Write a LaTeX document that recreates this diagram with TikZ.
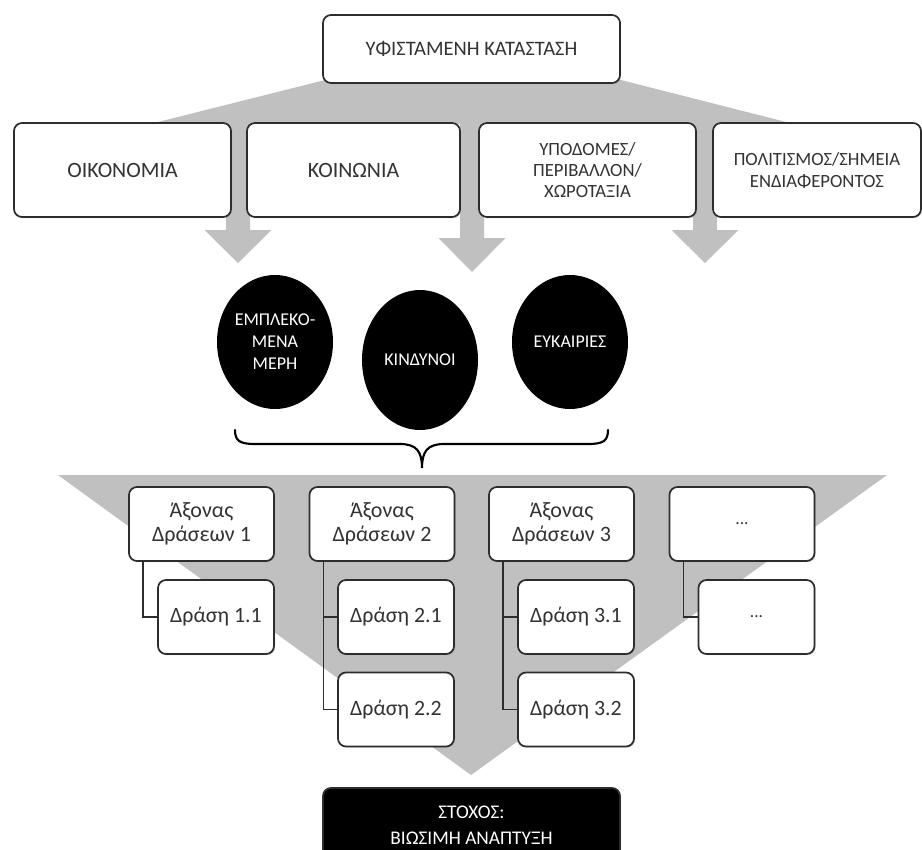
\documentclass[tikz,border=0pt]{standalone}
\usepackage{fontspec}
\setmainfont{Carlito}
\usetikzlibrary{shapes.geometric,shadows}
\definecolor{flowgray}{RGB}{192,192,192}
\definecolor{boxline}{RGB}{45,45,45}

\begin{document}
\begin{tikzpicture}[x=0.75pt,y=-0.75pt,
    box/.style={draw=boxline, line width=1.3pt, rounded corners=6pt, fill=white,
        align=center, inner sep=0pt, text=black!80,
        drop shadow={shadow xshift=0.9pt, shadow yshift=-0.9pt, opacity=0.3}},
    blob/.style={ellipse, fill=black, text=white, align=center, inner sep=0pt,
        minimum width=87pt, font=\fontsize{13.5}{16.5}\selectfont},
    tree/.style={draw=boxline, line width=1.1pt}]
    \useasboundingbox (0,0) rectangle (922,850);

    % Gray flow from the current state
    \fill[flowgray] (325,80) -- (621,80) -- (794,124) -- (150,124) -- cycle;
    \foreach \ax/\top/\tip in {238/230/263, 472/238/272, 705/230/263}
        \fill[flowgray] (\ax-12,120) -- (\ax+12,120) -- (\ax+12,\top) -- (\ax+33.5,\top)
            -- (\ax,\tip) -- (\ax-33.5,\top) -- (\ax-12,\top) -- cycle;

    % Gray funnel towards the goal
    \fill[flowgray] (58,475) -- (887,475) -- (471,775) -- cycle;

    % Current state and its fields
    \node[box, minimum width=222.75pt, minimum height=51pt,
        font=\fontsize{15.4}{18}\selectfont] (state) at (471.5,49) {ΥΦΙΣΤΑΜΕΝΗ ΚΑΤΑΣΤΑΣΗ};
    \node[box, minimum width=162.75pt, minimum height=70.5pt,
        font=\fontsize{16.4}{19}\selectfont] (economy) at (122.5,170) {ΟΙΚΟΝΟΜΙΑ};
    \node[box, minimum width=159.75pt, minimum height=70.5pt,
        font=\fontsize{16.4}{19}\selectfont] (society) at (353.5,170) {ΚΟΙΝΩΝΙΑ};
    \node[box, minimum width=162.75pt, minimum height=70.5pt,
        font=\fontsize{14}{16}\selectfont] (infra) at (587.5,170) {ΥΠΟΔΟΜΕΣ/\\ΠΕΡΙΒΑΛΛΟΝ/\\ΧΩΡΟΤΑΞΙΑ};
    \node[box, minimum width=156pt, minimum height=70.5pt,
        font=\fontsize{14}{16.5}\selectfont] (culture) at (817,170) {ΠΟΛΙΤΙΣΜΟΣ/ΣΗΜΕΙΑ\\ΕΝΔΙΑΦΕΡΟΝΤΟΣ};

    % Analysis
    \node[blob, minimum height=100.5pt] (parties) at (275,342) {ΕΜΠΛΕΚΟ-\\ΜΕΝΑ\\ΜΕΡΗ};
    \node[blob, minimum height=105pt] (risks) at (420,360) {ΚΙΝΔΥΝΟΙ};
    \node[blob, minimum height=100.5pt] (chances) at (570,342) {ΕΥΚΑΙΡΙΕΣ};

    % Brace
    \draw[line width=1.6pt, line cap=round] (235,430) .. controls (235,441) and (240,444) .. (255,444)
        -- (400,444) .. controls (417,444) and (422,452) .. (422,468)
        .. controls (422,452) and (427,444) .. (444,444) -- (588,444)
        .. controls (603,444) and (608,441) .. (608,430);

    % Axes of action
    \node[box, minimum width=108.75pt, minimum height=55.5pt,
        font=\fontsize{16.5}{18}\selectfont] (axis1) at (201.5,524) {Άξονας\\Δράσεων 1};
    \node[box, minimum width=108.75pt, minimum height=55.5pt,
        font=\fontsize{16.5}{18}\selectfont] (axis2) at (382,524) {Άξονας\\Δράσεων 2};
    \node[box, minimum width=108.75pt, minimum height=55.5pt,
        font=\fontsize{16.5}{18}\selectfont] (axis3) at (561.5,524) {Άξονας\\Δράσεων 3};
    \node[box, minimum width=108.75pt, minimum height=55.5pt,
        font=\fontsize{13}{16}\selectfont] (axis4) at (742,524) {...};

    % Actions
    \node[box, minimum width=87pt, minimum height=55.5pt,
        font=\fontsize{16.4}{19}\selectfont] (act11) at (216,617) {Δράση 1.1};
    \node[box, minimum width=87pt, minimum height=55.5pt,
        font=\fontsize{16.4}{19}\selectfont] (act21) at (396,617) {Δράση 2.1};
    \node[box, minimum width=87pt, minimum height=55.5pt,
        font=\fontsize{16.4}{19}\selectfont] (act22) at (396,709.5) {Δράση 2.2};
    \node[box, minimum width=87pt, minimum height=55.5pt,
        font=\fontsize{16.4}{19}\selectfont] (act31) at (576,617) {Δράση 3.1};
    \node[box, minimum width=87pt, minimum height=55.5pt,
        font=\fontsize{16.4}{19}\selectfont] (act32) at (576,709.5) {Δράση 3.2};
    \node[box, minimum width=87pt, minimum height=55.5pt,
        font=\fontsize{13}{16}\selectfont] (act41) at (756.5,617) {...};

    \draw[tree] ([xshift=11.25pt]axis1.south west) |- (act11.west);
    \draw[tree] ([xshift=11.25pt]axis2.south west) |- (act21.west)
        ([xshift=11.25pt]axis2.south west) |- (act22.west);
    \draw[tree] ([xshift=11.25pt]axis3.south west) |- (act31.west)
        ([xshift=11.25pt]axis3.south west) |- (act32.west);
    \draw[tree] ([xshift=11.25pt]axis4.south west) |- (act41.west);

    % Goal
    \node[box, fill=black, text=white, minimum width=222.75pt, minimum height=55.5pt,
        font=\fontsize{14.5}{19.5}\selectfont] (goal) at (471.5,825) {ΣΤΟΧΟΣ:\\ΒΙΩΣΙΜΗ ΑΝΑΠΤΥΞΗ};
\end{tikzpicture}
\end{document}
